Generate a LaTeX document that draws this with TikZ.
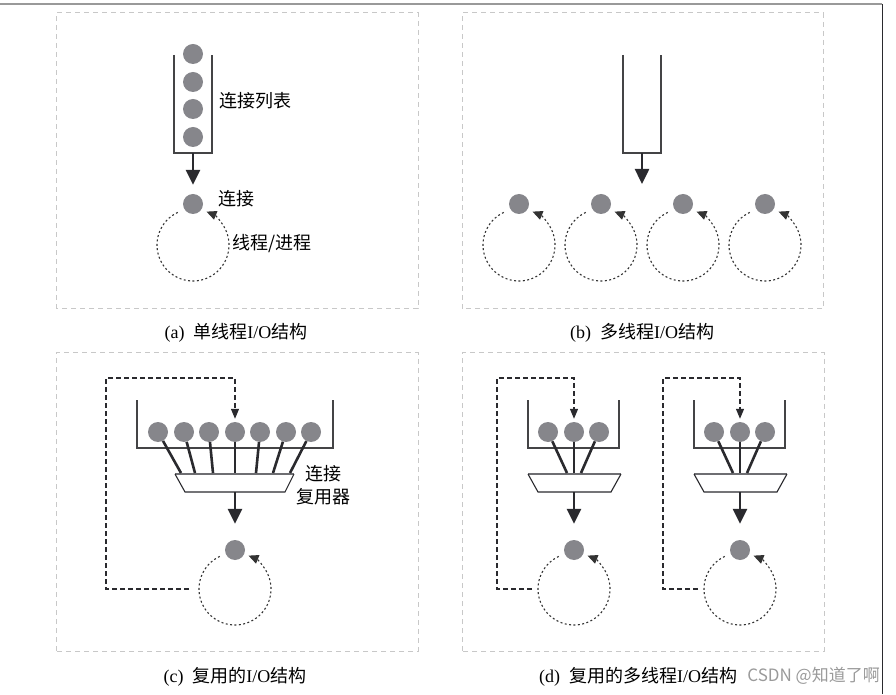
\documentclass[tikz,border=0pt]{standalone}
\usepackage{fontspec}
\setmainfont{Liberation Serif}
\newfontfamily\cjk{Noto Sans CJK SC}
\usetikzlibrary{arrows.meta}
\definecolor{dotgray}{HTML}{86868B}
\definecolor{panelgray}{HTML}{C8C8C8}
\definecolor{tubegray}{HTML}{444446}
\definecolor{arrowdark}{HTML}{2A2A2E}
\definecolor{loopdark}{HTML}{333333}
\definecolor{muxtopgray}{HTML}{6E6E72}
\definecolor{wmgray}{HTML}{9A9A9A}
\tikzset{
  panel/.style={draw=panelgray, line width=1pt, dash pattern=on 5pt off 4pt},
  dotnode/.style={circle, fill=dotgray, minimum size=20pt, inner sep=0pt},
  tube/.style={draw=tubegray, line width=1.5pt},
  bigarrow/.style={draw=arrowdark, line width=2.5pt, -{Triangle[length=15pt,width=14pt]}},
  loopline/.style={draw=loopdark, line width=1.1pt, dash pattern=on 2pt off 2.4pt, -{Triangle[length=10pt,width=9pt]}},
  fb/.style={draw=arrowdark, line width=1.2pt, dash pattern=on 5pt off 3pt, -{Triangle[length=10pt,width=8pt]}},
  spoke/.style={draw=arrowdark, line width=2.6pt},
  muxside/.style={draw=arrowdark, line width=1.1pt},
  muxtop/.style={draw=muxtopgray, line width=2.4pt},
  lbl/.style={font=\cjk\fontsize{18}{20}\selectfont, inner sep=0pt, anchor=west},
  captext/.style={font=\fontsize{18}{20}\selectfont, inner sep=0pt},
}
\newcommand{\capsep}{\hspace{9pt}}
\begin{document}
\begin{tikzpicture}[x=1pt,y=1pt]
\useasboundingbox (0,0) rectangle (896,694);
% frame
\draw[draw=gray!80, line width=1.5pt] (0,690) -- (882,690);
\draw[draw=arrowdark, line width=1pt] (882,690) -- (882,0);

% panels
\draw[panel] (56,385) rectangle (418,681);
\draw[panel] (462,385) rectangle (823,681);
\draw[panel] (56,43) rectangle (418,341);
\draw[panel] (462,43) rectangle (824,341);

% ---------- (a)
\draw[tube] (174,639) |- (212,541) -- (212,639);
\coordinate (tA) at (193,541);
\foreach \i/\y in {1/640,2/612,3/585,4/557} \node[dotnode] (qa\i) at (193,\y) {};
\node[dotnode] (ca) at (193,490) {};
\draw[bigarrow, shorten >=9pt] (tA) -- (ca.north);
\coordinate (la) at (193,449);
\draw[loopline] ([shift={(115:36)}]la) arc[start angle=115, end angle=428, radius=36];
\node[lbl] (la1) at (219,593) {连接列表};
\node[lbl] (la2) at (218,495) {连接};
\node[lbl] (la3) at (232,450) {线程/进程};
\node[captext] (capa) at (236,361) {(a)\capsep{\cjk 单线程}I/O{\cjk 结构}};

% ---------- (b)
\draw[tube] (623,639) |- (661,541) -- (661,639);
\coordinate (tB) at (642,541);
\coordinate (tBend) at (642,510);
\draw[bigarrow] (tB) -- (tBend);
\foreach \i/\x in {1/519,2/601,3/683,4/765} {
  \node[dotnode] (cb\i) at (\x,490) {};
  \coordinate (lb\i) at (\x,449);
  \draw[loopline] ([shift={(115:36)}]lb\i) arc[start angle=115, end angle=428, radius=36];
}
\node[captext] (capb) at (642,361) {(b)\capsep{\cjk 多线程}I/O{\cjk 结构}};

% ---------- (c)
\draw[tube] (137,294) |- (333,246) -- (333,294);
\draw[muxtop] (175,220) coordinate (mcl) -- (294,220) coordinate (mcr);
\draw[muxside] (mcl) -- (185,202) -- (285,202) -- (mcr);
\coordinate (mcb) at (235,202);
\foreach \i/\x/\t in {1/158/181,2/184/195,3/209/213,4/235/235,5/260/256,6/286/273,7/311/290} {
  \coordinate (sc\i) at (\t,221);
  \node[dotnode] (c\i) at (\x,262) {};
  \draw[spoke] (c\i) -- (sc\i);
}
\node[dotnode] (cc) at (235,144) {};
\draw[bigarrow, shorten >=16pt] (mcb) -- (cc.north);
\coordinate (lc) at (235,105);
\draw[loopline] ([shift={(115:36)}]lc) arc[start angle=115, end angle=428, radius=36];
\coordinate (fbc) at (189,105);
\draw[fb] (fbc) -- (106,105) |- (235,316) -- ([yshift=3pt]c4.north);
\node[lbl] (lc1) at (305,220) {连接};
\node[lbl] (lc2) at (296,197) {复用器};
\node[captext] (capc) at (235,17) {(c)\capsep{\cjk 复用的}I/O{\cjk 结构}};

% ---------- (d)
\foreach \u/\o in {1/0,2/166} {
  \begin{scope}[xshift=\o pt]
  \draw[tube] (528,294) |- (619,246) -- (619,294);
  \draw[muxtop] (528,220) coordinate (md\u l) -- (621,220) coordinate (md\u r);
  \draw[muxside] (md\u l) -- (538,202) -- (611,202) -- (md\u r);
  \coordinate (md\u b) at (574,202);
  \foreach \i/\x/\t in {1/548/567,2/574/574,3/599/581} {
    \coordinate (sd\u\i) at (\t,221);
    \node[dotnode] (d\u\i) at (\x,262) {};
    \draw[spoke] (d\u\i) -- (sd\u\i);
  }
  \node[dotnode] (cd\u) at (574,144) {};
  \draw[bigarrow, shorten >=16pt] (md\u b) -- (cd\u.north);
  \coordinate (ld\u) at (574,105);
  \draw[loopline] ([shift={(115:36)}]ld\u) arc[start angle=115, end angle=428, radius=36];
  \coordinate (fbd\u) at (532,105);
  \draw[fb] (fbd\u) -- (497,105) |- (574,316) -- ([yshift=3pt]d\u2.north);
  \end{scope}
}
\node[captext, anchor=west] (capd) at (539,17) {(d)\capsep{\cjk 复用的多线程}I/O{\cjk 结构}};
\node[font=\cjk\fontsize{17}{19}\selectfont, text=wmgray, inner sep=0pt, anchor=east] (wm) at (880,18) {CSDN @知道了啊};
\end{tikzpicture}
\end{document}
